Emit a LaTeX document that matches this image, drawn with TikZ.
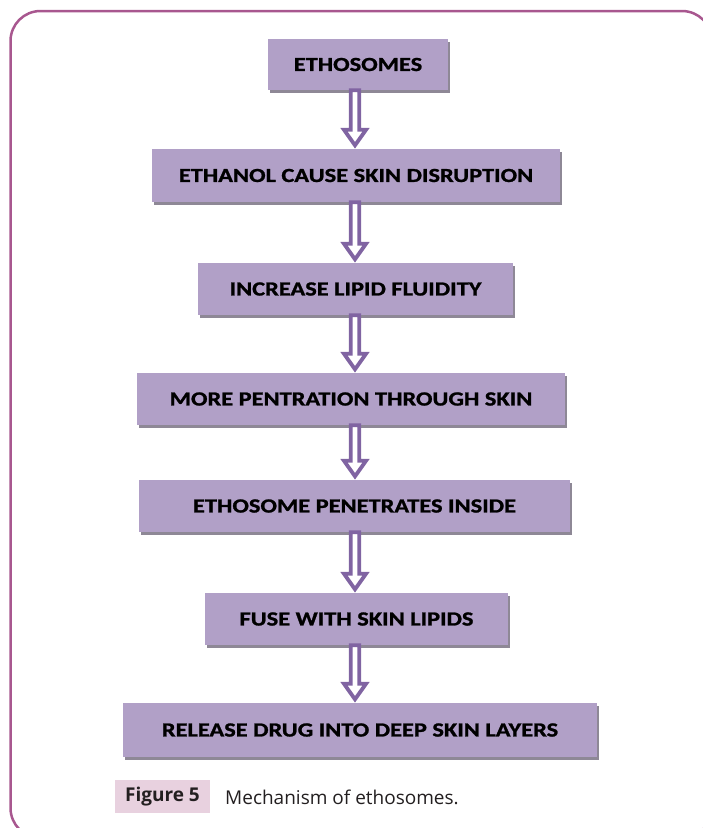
\documentclass[tikz,border=0pt]{standalone}
\usepackage{fontspec}
\setmainfont{Open Sans}
\newfontfamily\boxfont{Carlito}[FakeStretch=1.22, BoldFeatures={FakeBold=1.2}]
\usetikzlibrary{shadows,calc}
\definecolor{boxfill}{HTML}{B1A0C7}
\definecolor{shadowc}{HTML}{8E8896}
\definecolor{arrowc}{HTML}{8064A2}
\definecolor{framec}{HTML}{A8578F}
\definecolor{capfill}{HTML}{E8D1DF}
\definecolor{captext}{HTML}{231F20}
\newcommand\flowarrow[2]{%
  \path[harrow] let \p1=(#1.south), \p2=(#2.north) in
    (350.8pt,\y1) -- (359.2pt,\y1) -- (359.2pt,\y2+19pt) -- (366pt,\y2+19pt)
    -- (355pt,\y2+3.5pt) -- (344pt,\y2+19pt) -- (350.8pt,\y2+19pt) -- cycle;}
\begin{document}
\begin{tikzpicture}[x=1pt,y=-1pt,
  stepbox/.style={fill=boxfill, inner sep=0pt, text=black,
    font=\boxfont\bfseries\fontsize{20}{24}\selectfont,
    drop shadow={shadow xshift=2pt, shadow yshift=-3pt, fill=shadowc, opacity=1}},
  harrow/.style={draw=arrowc, line width=3.8pt, fill=white, line join=miter}]
\useasboundingbox (0,0) rectangle (703,828);
\draw[framec, line width=2.5pt, rounded corners=30pt] (10.5,11) rectangle (712,838);

\node[stepbox, minimum width=180pt, minimum height=51pt] (b1) at (358,64.5) {ETHOSOMES};
\node[stepbox, minimum width=408pt, minimum height=53pt] (b2) at (356,175.5) {ETHANOL CAUSE SKIN DISRUPTION};
\node[stepbox, minimum width=315pt, minimum height=52pt] (b3) at (355.5,289) {INCREASE LIPID FLUIDITY};
\node[stepbox, minimum width=428pt, minimum height=52pt] (b4) at (351,399) {MORE PENTRATION THROUGH SKIN};
\node[stepbox, minimum width=431pt, minimum height=52pt] (b5) at (354.5,506) {ETHOSOME PENETRATES INSIDE};
\node[stepbox, minimum width=303pt, minimum height=52pt] (b6) at (356.5,619) {FUSE WITH SKIN LIPIDS};
\node[stepbox, minimum width=474pt, minimum height=54pt] (b7) at (360,730) {RELEASE DRUG INTO DEEP SKIN LAYERS};

\flowarrow{b1}{b2}
\flowarrow{b2}{b3}
\flowarrow{b3}{b4}
\flowarrow{b4}{b5}
\flowarrow{b5}{b6}
\flowarrow{b6}{b7}

\node[fill=capfill, minimum width=95pt, minimum height=33pt, inner sep=0pt,
  text=captext, font=\bfseries\fontsize{19}{23}\selectfont] (figlab) at (162.5,796.5) {Figure 5};
\node[anchor=base west, inner sep=0pt, text=captext, font=\fontsize{19}{23}\selectfont]
  (captxt) at (225,804) {Mechanism of ethosomes.};
\end{tikzpicture}
\end{document}
